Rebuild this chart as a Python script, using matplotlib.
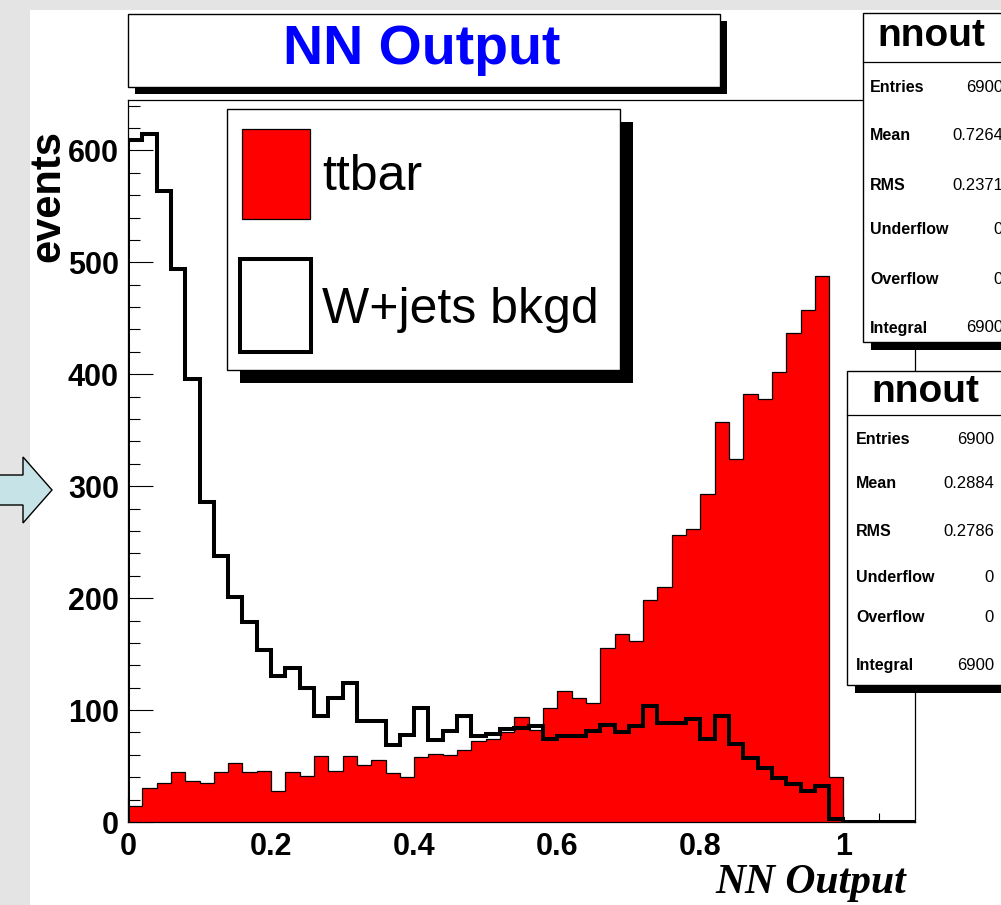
import numpy as np
import matplotlib
matplotlib.use("Agg")
import matplotlib.pyplot as plt
from matplotlib.patches import Rectangle, Polygon

plt.rcParams['font.family'] = ['Liberation Sans', 'DejaVu Sans']

# bin edges 0 .. 1.1 in steps of 0.02 (55 bins)
edges = np.linspace(0.0, 1.1, 56)

ttbar = [14, 30, 34.5, 45, 37, 35, 45, 53, 45, 46,
         28, 45, 41, 59, 46, 59, 51, 55, 44, 40.5,
         58, 61, 60, 64, 72, 74, 80, 94, 82, 101.5,
         117, 110.5, 106, 155, 168, 162, 198, 210, 256, 262,
         293, 357, 324, 382, 378, 402, 437, 457, 488, 40,
         0, 0, 0, 0, 0]

wjets = [609, 615, 564, 494, 396, 286, 238, 201, 179, 154,
         130, 138, 120, 95, 111, 124, 90, 90, 69, 78,
         102, 73, 81, 95, 77, 79, 83, 84, 86, 74,
         77, 77, 81, 87, 80, 86, 104, 88, 88, 92,
         74, 95, 70, 57, 48, 39, 34, 28, 32, 3,
         0, 0, 0, 0, 0]

yticks = [0, 100, 200, 300, 400, 500, 600]
xticks = [0, 0.2, 0.4, 0.6, 0.8, 1.0]
xticklabels = ["0", "0.2", "0.4", "0.6", "0.8", "1"]

stat_rows = ["Entries", "Mean", "RMS", "Underflow", "Overflow", "Integral"]
stats_ttbar = ["6900", "0.7264", "0.2371", "0", "0", "6900"]
stats_wjets = ["6900", "0.2884", "0.2786", "0", "0", "6900"]

W, H = 1001, 905
fig = plt.figure(figsize=(W / 100, H / 100), dpi=100)
fig.patch.set_facecolor('#e4e4e4')


def fx(x):
    return x / W


def fy(y):
    return 1 - y / H


def box(x0, y0, x1, y1, **kw):
    r = Rectangle((fx(x0), fy(y1)), (x1 - x0) / W, (y1 - y0) / H,
                  transform=fig.transFigure, **kw)
    fig.patches.append(r)
    return r


def shadow_box(x0, y0, x1, y1, d, lw=1.0):
    # ROOT style pave with a black shadow bottom/right
    box(x0 + d, y1, x1 + d, y1 + d, facecolor='black', edgecolor='none', zorder=4)
    box(x1, y0 + d, x1 + d, y1 + d, facecolor='black', edgecolor='none', zorder=4)
    box(x0, y0, x1, y1, facecolor='white', edgecolor='black', lw=lw, zorder=5)


# white canvas
box(30, 10, 1010, 910, facecolor='white', edgecolor='none', zorder=-10)

# arrow on the left
arrow_px = [(-3, 475), (23, 475), (23, 457), (52, 490), (23, 523), (23, 505), (-3, 505)]
fig.patches.append(Polygon([(fx(x), fy(y)) for x, y in arrow_px], closed=True,
                           transform=fig.transFigure, facecolor='#c6e4e7',
                           edgecolor='black', lw=1.0, zorder=2))

# main axes
ax = fig.add_axes([fx(128), fy(822), (915 - 128) / W, (822 - 100) / H])
ax.set_axisbelow(True)
ax.stairs(ttbar, edges, fill=True, facecolor='#ff0000', edgecolor='black', lw=0.9, zorder=1)
ax.stairs(wjets, edges, color='black', lw=2.9, zorder=2)

ax.set_xlim(0, 1.1)
ax.set_ylim(0, 645)
for s in ax.spines.values():
    s.set_linewidth(0.9)

ax.set_yticks(yticks)
ax.set_yticks(np.arange(0, 641, 20), minor=True)
ax.set_xticks(xticks)
ax.set_xticklabels(xticklabels)
ax.set_xticks(np.arange(0, 1.1, 0.05), minor=True)
ax.tick_params(axis='y', which='major', direction='in', length=18, width=0.8, pad=6.5, labelsize=22)
ax.tick_params(axis='y', which='minor', direction='in', length=8.5, width=0.8)
ax.tick_params(axis='x', which='major', direction='in', length=18, width=0.8, pad=7, labelsize=22)
ax.tick_params(axis='x', which='minor', direction='in', length=6.5, width=0.8)
plt.setp(ax.get_xticklabels() + ax.get_yticklabels(), fontweight='bold')

# axis titles
fig.text(fx(48), fy(130), 'events', rotation=90, ha='center', va='top',
         fontsize=30, fontweight='bold')
fig.text(fx(906), fy(893), 'NN Output', ha='right', va='baseline', fontsize=30,
         family='Liberation Serif', fontweight='bold', style='italic')

# title pave
shadow_box(128, 14, 720, 87, 7)
fig.text(fx(422), fy(50), 'NN Output', ha='center', va='center', color='#0000ff',
         fontsize=40, fontweight='bold', zorder=6)

# legend pave
shadow_box(227, 109, 620, 370, 13)
box(242, 129, 310, 219, facecolor='#ff0000', edgecolor='black', lw=0.9, zorder=6)
box(240, 259, 311, 352, facecolor='white', edgecolor='black', lw=2.9, zorder=6)
fig.text(fx(322), fy(190), 'ttbar', ha='left', va='baseline', fontsize=36, zorder=6)
fig.text(fx(322), fy(323), 'W+jets bkgd', ha='left', va='baseline', fontsize=36, zorder=6)


# stats boxes
def stats_box(x0, y0, y1, sep, title_xy, row_y, lab_x, val_x, values):
    shadow_box(x0, y0, 1012, y1, 8)
    fig.lines.append(plt.Line2D([fx(x0), 1], [fy(sep), fy(sep)], transform=fig.transFigure,
                                color='black', lw=0.9, zorder=6))
    fig.text(fx(title_xy[0]), fy(title_xy[1]), 'nnout', ha='center', va='center',
             fontsize=28, fontweight='bold', zorder=6)
    for lab, val, yy in zip(stat_rows, values, row_y):
        fig.text(fx(lab_x), fy(yy), lab, ha='left', va='center', fontsize=11.5,
                 fontweight='bold', zorder=6)
        fig.text(fx(val_x), fy(yy), val, ha='right', va='center', fontsize=12, zorder=6)


stats_box(863, 13, 342, 62, (931, 36), [87, 136, 185, 230, 280, 328], 870, 1003, stats_ttbar)
stats_box(847, 371, 685, 415, (925, 392), [439, 483, 532, 577, 618, 665], 856, 994, stats_wjets)

fig.savefig('out.png', dpi=100, facecolor=fig.get_facecolor())
